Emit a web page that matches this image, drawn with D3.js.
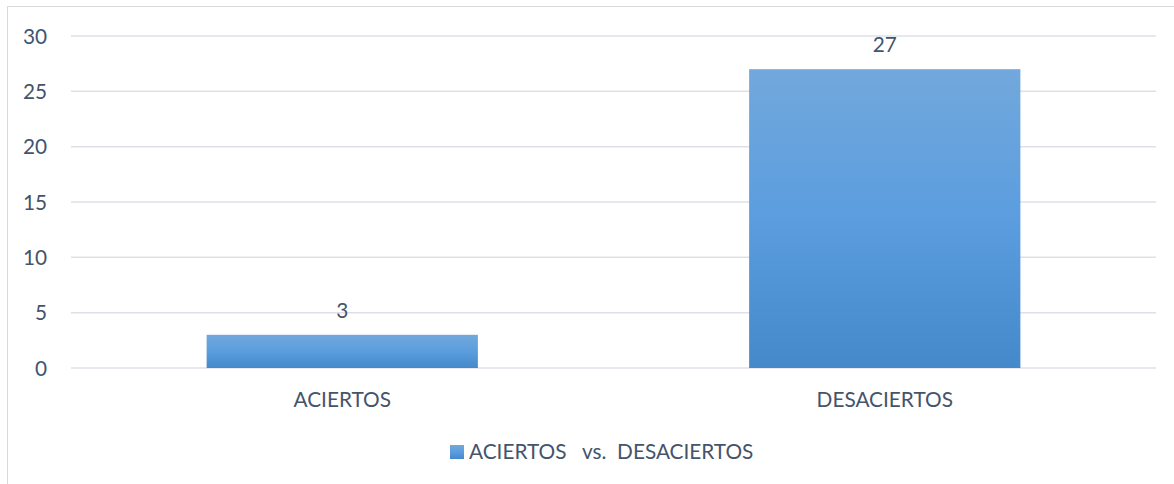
<!DOCTYPE html>
<html>
<head>
<meta charset="utf-8">
<script src="https://cdn.jsdelivr.net/npm/d3@7"></script>
<style>
  html, body { margin: 0; padding: 0; background: #fff; }
  svg { display: block; }
  text { font-family: Lato, "Open Sans", sans-serif; fill: #44546a; }
</style>
</head>
<body>
<svg id="chart" width="1174" height="484"></svg>
<script>
const categories = ["ACIERTOS", "DESACIERTOS"];
const values = [3, 27];
const yTicks = [0, 5, 10, 15, 20, 25, 30];
const seriesName = "ACIERTOS   vs.  DESACIERTOS";

const svg = d3.select("#chart");
const W = 1174, H = 484;
const plot = { left: 71, right: 1156, top: 36, bottom: 368 };
const fontSize = 20.8;

// chart frame
svg.append("rect")
  .attr("x", 7.5).attr("y", 6.5)
  .attr("width", W + 20).attr("height", H + 20)
  .attr("fill", "#fff").attr("stroke", "#d9d9d9").attr("stroke-width", 1);

const defs = svg.append("defs");
const grad = defs.append("linearGradient")
  .attr("id", "barFill").attr("x1", 0).attr("y1", 0).attr("x2", 0).attr("y2", 1);
grad.append("stop").attr("offset", "0%").attr("stop-color", "#72a8dc");
grad.append("stop").attr("offset", "50%").attr("stop-color", "#5b9ddf");
grad.append("stop").attr("offset", "100%").attr("stop-color", "#4589ca");

const x = d3.scaleBand().domain(categories)
  .range([plot.left, plot.right]).paddingInner(0.5).paddingOuter(0.25);
const y = d3.scaleLinear().domain([0, 30]).range([plot.bottom, plot.top]);

// gridlines
svg.append("g").selectAll("line").data(yTicks).join("line")
  .attr("x1", plot.left).attr("x2", plot.right)
  .attr("y1", d => y(d)).attr("y2", d => y(d))
  .attr("stroke", "#dde1e7").attr("stroke-width", 1.5);

// y axis labels
const yAxis = d3.axisLeft(y).tickValues(yTicks).tickSize(0).tickPadding(0);
const gy = svg.append("g").attr("transform", `translate(${plot.left - 24},0)`).call(yAxis);
gy.select(".domain").remove();
gy.selectAll("text")
  .attr("font-size", fontSize).attr("font-family", "Lato, sans-serif")
  .attr("fill", "#44546a").attr("dy", "0.35em").attr("text-anchor", "end");

// bars
svg.append("g").selectAll("rect").data(values).join("rect")
  .attr("x", (d, i) => x(categories[i]))
  .attr("width", x.bandwidth())
  .attr("y", d => y(d))
  .attr("height", d => y(0) - y(d))
  .attr("fill", "url(#barFill)");

// value labels
svg.append("g").selectAll("text").data(values).join("text")
  .attr("x", (d, i) => x(categories[i]) + x.bandwidth() / 2)
  .attr("y", d => y(d) - 17)
  .attr("text-anchor", "middle").attr("font-size", fontSize)
  .text(d => d);

// x axis labels
const xAxis = d3.axisBottom(x).tickSize(0).tickPadding(0);
const gx = svg.append("g").attr("transform", `translate(0,${plot.bottom})`).call(xAxis);
gx.select(".domain").remove();
gx.selectAll("text")
  .attr("font-size", fontSize).attr("font-family", "Lato, sans-serif")
  .attr("fill", "#44546a").attr("y", 39).attr("dy", 0);

// legend
const lg = svg.append("g");
lg.append("rect").attr("x", 450).attr("y", 445).attr("width", 14).attr("height", 14)
  .attr("fill", "url(#barFill)");
lg.append("text").attr("x", 469).attr("y", 459)
  .attr("font-size", fontSize).style("white-space", "pre")
  .text(seriesName);
</script>
</body>
</html>
